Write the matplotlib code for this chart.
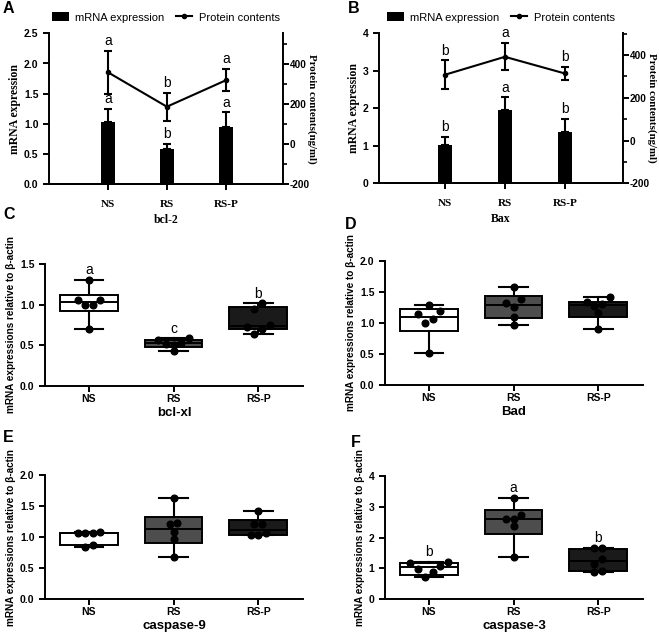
import numpy as np
import matplotlib
matplotlib.use("Agg")
import matplotlib.pyplot as plt
from matplotlib.lines import Line2D
from matplotlib.patches import Patch
from matplotlib.ticker import MultipleLocator, FormatStrFormatter

plt.rcParams["axes.unicode_minus"] = False

SANS = "Liberation Sans"
SERIF = "Liberation Serif"

groups = ["NS", "RS", "RS-P"]

# A: bcl-2
bcl2_mrna = [1.03, 0.58, 0.95]
bcl2_mrna_err = [0.22, 0.09, 0.24]
bcl2_protein = [360, 188, 320]
bcl2_protein_err = [108, 70, 56]
bcl2_mrna_letters = ["a", "b", "a"]
bcl2_protein_letters = ["a", "b", "a"]

# B: Bax
bax_mrna = [1.02, 1.96, 1.36]
bax_mrna_err = [0.21, 0.33, 0.35]
bax_protein = [308, 392, 314]
bax_protein_err = [67, 64, 30]
bax_mrna_letters = ["b", "a", "b"]
bax_protein_letters = ["b", "a", "b"]

# C-F: individual values + box stats (q1, median, q3, low whisker, high whisker)
bclxl_points = [[1.307, 1.061, 1.0, 1.0, 1.053, 0.697],
                [0.586, 0.56, 0.53, 0.52, 0.51, 0.434],
                [1.016, 0.95, 0.75, 0.72, 0.70, 0.635]]
bclxl_boxes = [(0.918, 1.033, 1.115, 0.697, 1.307),
               (0.484, 0.525, 0.561, 0.434, 0.586),
               (0.700, 0.740, 0.971, 0.635, 1.016)]
bclxl_letters = ["a", "c", "b"]

bad_points = [[1.294, 1.19, 1.14, 1.06, 1.0, 0.507],
              [1.585, 1.38, 1.32, 1.26, 1.10, 0.965],
              [1.41, 1.33, 1.30, 1.28, 1.16, 0.90]]
bad_boxes = [(0.873, 1.10, 1.218, 0.507, 1.294),
             (1.073, 1.283, 1.43, 0.965, 1.585),
             (1.089, 1.29, 1.342, 0.90, 1.41)]

casp9_points = [[1.09, 1.07, 1.06, 1.06, 0.88, 0.84],
                [1.633, 1.229, 1.213, 1.078, 0.976, 0.679],
                [1.423, 1.22, 1.21, 1.06, 1.04, 1.03]]
casp9_boxes = [(0.873, 1.06, 1.073, 0.84, 1.09),
               (0.905, 1.137, 1.32, 0.679, 1.633),
               (1.04, 1.12, 1.272, 1.03, 1.423)]

casp3_points = [[1.21, 1.18, 1.08, 0.98, 0.87, 0.72],
                [3.30, 2.75, 2.62, 2.60, 2.38, 1.35],
                [1.66, 1.66, 1.30, 1.15, 0.90, 0.86]]
casp3_boxes = [(0.785, 1.035, 1.177, 0.72, 1.21),
               (2.125, 2.616, 2.89, 1.35, 3.30),
               (0.916, 1.22, 1.624, 0.86, 1.66)]
casp3_letters = ["b", "a", "b"]

box_colors = ["white", "#4d4d4d", "#1a1a1a"]

W, H = 659, 635
fig = plt.figure(figsize=(W / 100, H / 100), dpi=100)


def px_rect(left, top, right, bottom):
    return [left / W, 1 - bottom / H, (right - left) / W, (bottom - top) / H]


def style_ticks(ax, size=7.5):
    ax.tick_params(direction="out", length=4, width=1.4)
    for lab in ax.get_yticklabels():
        lab.set_fontfamily(SANS)
        lab.set_fontweight("bold")
        lab.set_fontsize(size)
    for sp in ax.spines.values():
        sp.set_linewidth(1.4)


def bar_line_panel(rect, mrna, mrna_err, prot, prot_err, mrna_letters, prot_letters,
                   ylim, yticks, yfmt, rlim, xlim, gene, letter, letter_xy):
    ax = fig.add_axes(px_rect(*rect))
    x = np.arange(len(groups))
    ax.bar(x, mrna, width=0.24, color="black", zorder=2)
    ax.errorbar(x, mrna, yerr=[np.zeros(len(x)), mrna_err], fmt="none", ecolor="black",
                elinewidth=1.5, capsize=3, capthick=1.5, zorder=2)
    ax.set_ylim(*ylim)
    ax.set_xlim(*xlim)
    ax.set_yticks(yticks)
    ax.yaxis.set_major_formatter(FormatStrFormatter(yfmt))
    ax.set_xticks(x)
    ax.set_xticklabels(groups, fontfamily=SERIF, fontweight="bold", fontsize=8)
    ax.tick_params(axis="x", pad=7)
    ax.spines["top"].set_visible(False)
    ax.spines["right"].set_visible(False)
    ax.set_ylabel("mRNA expression", fontfamily=SERIF, fontweight="bold", fontsize=8.5, labelpad=2)
    ax.set_xlabel(gene, fontfamily=SERIF, fontweight="bold", fontsize=8.5, labelpad=4)
    style_ticks(ax)
    for xi, top, t in zip(x, np.add(mrna, mrna_err), mrna_letters):
        ax.annotate(t, (xi, top), xytext=(0, 2), textcoords="offset points", ha="center",
                    va="bottom", fontfamily=SANS, fontsize=10)

    ax2 = ax.twinx()
    ax2.errorbar(x, prot, yerr=prot_err, color="black", marker="o", markersize=3,
                 lw=1.5, elinewidth=1.5, capsize=3, capthick=1.5)
    ax2.set_ylim(*rlim)
    ax2.set_yticks([-200, 0, 200, 400])
    ax2.yaxis.set_minor_locator(MultipleLocator(100))
    ax2.tick_params(which="minor", direction="out", length=3, width=1.2)
    ax2.spines["top"].set_visible(False)
    ax2.spines["left"].set_visible(False)
    ax2.set_ylabel("Protein contents(ng/ml)", fontfamily=SERIF, fontweight="bold",
                   fontsize=7.8, rotation=270, va="center", ha="center")
    ax2.yaxis.set_label_coords(1 + 29 / (rect[2] - rect[0]), 0.5)
    style_ticks(ax2, size=7.2)
    ax2.tick_params(axis="y", pad=1)
    for xi, top, t in zip(x, np.add(prot, prot_err), prot_letters):
        ax2.annotate(t, (xi, top), xytext=(0, 2), textcoords="offset points", ha="center",
                     va="bottom", fontfamily=SANS, fontsize=10)

    handles = [Patch(facecolor="black"),
               Line2D([0], [0], color="black", lw=1.5, marker="o", markersize=3)]
    ax.legend(handles, ["mRNA expression", "Protein contents"], loc="center",
              bbox_to_anchor=(0.5, 1 + 16 / (rect[3] - rect[1])), ncol=2, frameon=False,
              prop={"family": SANS, "size": 8}, handlelength=1.5, handleheight=0.9,
              handletextpad=0.6, columnspacing=1.0, borderaxespad=0, borderpad=0)
    fig.text(letter_xy[0] / W, 1 - letter_xy[1] / H, letter, fontfamily=SANS,
             fontweight="bold", fontsize=11.5, va="baseline")


def swarm_offsets(vals, thr, step=0.09):
    # spread points that sit close together; lowest values go in the middle
    vals = np.asarray(vals, dtype=float)
    order = np.argsort(vals)
    offs = np.zeros(len(vals))
    clusters = [[order[0]]]
    for i in order[1:]:
        if vals[i] - vals[clusters[-1][-1]] < thr:
            clusters[-1].append(i)
        else:
            clusters.append([i])
    for c in clusters:
        n = len(c)
        slots = (np.arange(n) - (n - 1) / 2) * step
        slots = sorted(slots, key=lambda s: (abs(s), s))
        for k, i in enumerate(c):
            offs[i] = slots[k]
    return offs


def box_panel(rect, points, boxes, letters, ylim, yticks, yfmt, gene, letter, letter_xy):
    ax = fig.add_axes(px_rect(*rect))
    stats = [dict(q1=b[0], med=b[1], q3=b[2], whislo=b[3], whishi=b[4], fliers=[])
             for b in boxes]
    x = np.arange(len(groups))
    bp = ax.bxp(stats, positions=x, widths=0.68, capwidths=0.34, patch_artist=True,
                showfliers=False,
                boxprops=dict(linewidth=1.4, edgecolor="black"),
                medianprops=dict(color="black", linewidth=1.4),
                whiskerprops=dict(color="black", linewidth=1.5),
                capprops=dict(color="black", linewidth=1.5))
    for patch, c in zip(bp["boxes"], box_colors):
        patch.set_facecolor(c)
    thr = ylim[1] * 0.045
    for xi, pts in zip(x, points):
        ax.plot(xi + swarm_offsets(pts, thr), pts, "o", color="black", markersize=4.8,
                zorder=5, clip_on=False)
    if letters:
        for xi, b, t in zip(x, boxes, letters):
            ax.annotate(t, (xi, b[4]), xytext=(0, 2), textcoords="offset points",
                        ha="center", va="bottom", fontfamily=SANS, fontsize=10)
    ax.set_xlim(-0.52, 2.53)
    ax.set_ylim(*ylim)
    ax.set_yticks(yticks)
    ax.yaxis.set_major_formatter(FormatStrFormatter(yfmt))
    ax.set_xticks(x)
    ax.set_xticklabels(groups, fontfamily=SANS, fontweight="bold", fontsize=7.5)
    ax.spines["top"].set_visible(False)
    ax.spines["right"].set_visible(False)
    ax.set_ylabel("mRNA expressions relative to \u03b2-actin", fontfamily=SANS,
                  fontweight="bold", fontsize=7.2, labelpad=3)
    ax.set_xlabel(gene, fontfamily=SANS, fontweight="bold", fontsize=9.5, labelpad=2)
    style_ticks(ax)
    ax.tick_params(axis="x", pad=2)
    fig.text(letter_xy[0] / W, 1 - letter_xy[1] / H, letter, fontfamily=SANS,
             fontweight="bold", fontsize=11.5, va="baseline")


bar_line_panel((49, 33.3, 283, 184.3), bcl2_mrna, bcl2_mrna_err, bcl2_protein,
               bcl2_protein_err, bcl2_mrna_letters, bcl2_protein_letters,
               (0, 2.5), [0, 0.5, 1.0, 1.5, 2.0, 2.5], "%.1f", (-200, 555), (-1.0, 2.97),
               "bcl-2", "A", (3, 13))
bar_line_panel((379, 33.3, 623, 183.3), bax_mrna, bax_mrna_err, bax_protein,
               bax_protein_err, bax_mrna_letters, bax_protein_letters,
               (0, 4), [0, 1, 2, 3, 4], "%d", (-200, 502), (-1.1, 2.97),
               "Bax", "B", (348, 13))

box_panel((45, 264, 303, 386), bclxl_points, bclxl_boxes, bclxl_letters,
          (0, 1.5), [0, 0.5, 1.0, 1.5], "%.1f", "bcl-xl", "C", (3, 219))
box_panel((385, 261, 643, 384.7), bad_points, bad_boxes, None,
          (0, 2.0), [0, 0.5, 1.0, 1.5, 2.0], "%.1f", "Bad", "D", (345, 229))
box_panel((45, 475.3, 303, 599), casp9_points, casp9_boxes, None,
          (0, 2.0), [0, 0.5, 1.0, 1.5, 2.0], "%.1f", "caspase-9", "E", (3, 442))
box_panel((385, 476.3, 643, 598.7), casp3_points, casp3_boxes, casp3_letters,
          (0, 4), [0, 1, 2, 3, 4], "%d", "caspase-3", "F", (351, 447))

fig.savefig("out.png", dpi=100)
